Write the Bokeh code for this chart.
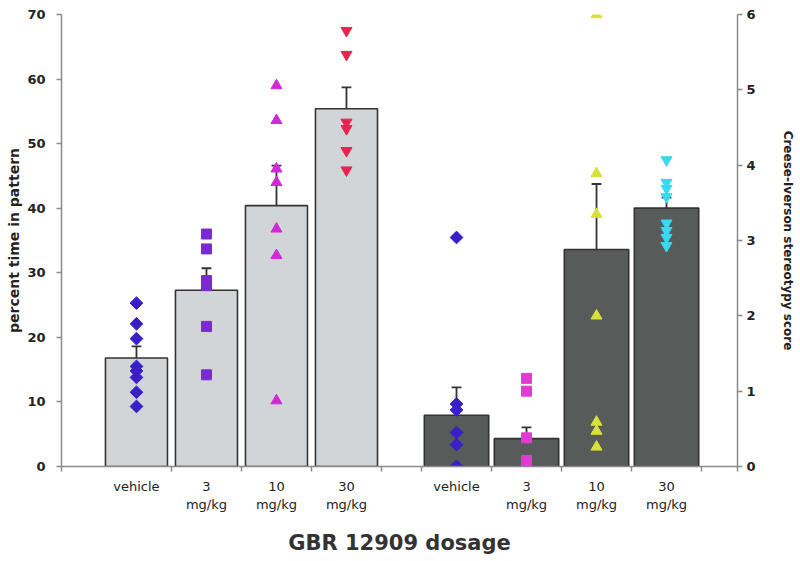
import math
from bokeh.plotting import figure
from bokeh.models import Range1d, LinearAxis, FixedTicker, ColumnDataSource
from bokeh.embed import file_html
from bokeh.resources import INLINE

# ---------------- data ----------------
dose_labels = ["vehicle", "3\nmg/kg", "10\nmg/kg", "30\nmg/kg"]

# percent time in pattern (left axis)
pct_means = [16.8, 27.3, 40.4, 55.4]
pct_sem = [1.8, 3.4, 6.2, 3.3]
pct_vehicle = [25.3, 22.1, 19.8, 15.5, 14.8, 13.8, 11.5, 9.3]
pct_3 = [36.0, 33.7, 28.8, 28.0, 21.7, 14.2]
pct_10 = [59.0, 53.6, 46.1, 44.0, 36.8, 32.7, 10.2]
pct_30 = [67.5, 63.8, 53.3, 52.3, 48.9, 45.9]

# Creese-Iverson stereotypy score (right axis)
score_means = [0.68, 0.37, 2.88, 3.43]
score_sem = [0.37, 0.15, 0.87, 0.14]
score_vehicle = [3.04, 0.83, 0.75, 0.45, 0.29, 0.0, 0.0, 0.0]
score_3 = [1.17, 1.0, 0.38, 0.08, 0.0, 0.0, 0.0]
score_10 = [6.0, 3.89, 3.35, 2.0, 0.59, 0.47, 0.26]
score_30 = [4.07, 3.77, 3.69, 3.58, 3.23, 3.13, 3.04, 2.93]

pct_ticks = [0, 10, 20, 30, 40, 50, 60, 70]
score_ticks = [0, 1, 2, 3, 4, 5, 6]

# ---------------- layout constants ----------------
X_END = 9.657
LEFT_START = 1.071
RIGHT_START = 5.643
left_x = [round(LEFT_START + i, 3) for i in range(4)]
right_x = [round(RIGHT_START + i, 3) for i in range(4)]

left_colors = ["#3a1fc9", "#7a2bd0", "#d02ad6", "#e8244e"]
right_colors = ["#3a1fc9", "#e03cd4", "#d8e03a", "#38d8f0"]
markers = ["square", "square", "triangle", "inverted_triangle"]
angles = [math.pi / 4, 0, 0, 0]
sizes = [9, 10, 11, 11]

AX = "#8a8a8a"
TXT = "#222222"

p = figure(width=800, height=561, output_backend="svg", toolbar_location=None,
           x_range=Range1d(0, X_END), y_range=Range1d(0, 70),
           min_border_left=61, min_border_right=63, min_border_top=14, min_border_bottom=95)
p.extra_y_ranges = {"score": Range1d(0, 6)}
p.outline_line_color = None
p.xgrid.visible = False
p.ygrid.visible = False
p.background_fill_color = "white"
p.border_fill_color = "white"

# bars
p.vbar(x=left_x, top=pct_means, width=0.886, bottom=0,
       fill_color="#d2d5d8", line_color="#333333", line_width=1.6)
p.vbar(x=right_x, top=score_means, width=0.92, bottom=0, y_range_name="score",
       fill_color="#575b5a", line_color="#333333", line_width=1.6)

# error bars (upper only)
CAP = 0.07
pct_top = [m + s for m, s in zip(pct_means, pct_sem)]
score_top = [m + s for m, s in zip(score_means, score_sem)]
p.segment(x0=left_x, y0=pct_means, x1=left_x, y1=pct_top, line_color="#333333", line_width=1.8)
p.segment(x0=[x - CAP for x in left_x], y0=pct_top, x1=[x + CAP for x in left_x], y1=pct_top,
          line_color="#333333", line_width=1.8)
p.segment(x0=right_x, y0=score_means, x1=right_x, y1=score_top, y_range_name="score",
          line_color="#333333", line_width=1.8)
p.segment(x0=[x - CAP for x in right_x], y0=score_top, x1=[x + CAP for x in right_x], y1=score_top,
          y_range_name="score", line_color="#333333", line_width=1.8)

# individual points
def pts(xc, vals, color, marker, size, angle, yr="default"):
    src = ColumnDataSource(dict(x=[xc] * len(vals), y=vals))
    kw = {} if yr == "default" else {"y_range_name": yr}
    p.scatter("x", "y", source=src, marker=marker, size=size, angle=angle,
              fill_color=color, line_color=color, **kw)

left_sets = [pct_vehicle, pct_3, pct_10, pct_30]
right_sets = [score_vehicle, score_3, score_10, score_30]
for i in range(4):
    pts(left_x[i], left_sets[i], left_colors[i], markers[i], sizes[i], angles[i])
    pts(right_x[i], right_sets[i], right_colors[i], markers[i], sizes[i], angles[i], "score")

# ---------------- axes ----------------
yl = p.yaxis[0]
yl.ticker = FixedTicker(ticks=pct_ticks)
yl.axis_label = "percent time in pattern"

yr = LinearAxis(y_range_name="score", ticker=FixedTicker(ticks=score_ticks),
                axis_label="Creese-Iverson stereotypy score")
p.add_layout(yr, "right")

for ax, lsize, lstand in ((yl, "14px", 2), (yr, "12px", 22)):
    ax.axis_line_color = AX
    ax.axis_line_width = 1.5
    ax.major_tick_line_color = AX
    ax.major_tick_line_width = 1.5
    ax.major_tick_in = 0
    ax.major_tick_out = 5
    ax.minor_tick_line_color = None
    ax.major_label_text_font = "DejaVu Sans"
    ax.major_label_text_font_style = "bold"
    ax.major_label_text_font_size = "13px"
    ax.major_label_text_color = TXT
    ax.axis_label_text_font = "DejaVu Sans"
    ax.axis_label_text_font_style = "bold"
    ax.axis_label_text_font_size = lsize
    ax.axis_label_text_color = TXT
    ax.axis_label_standoff = lstand
yl.major_label_standoff = 11
yr.major_label_standoff = 4

xa = p.xaxis[0]
centers = left_x + right_x
bounds = [0.0] + [round(x + 0.5, 3) for x in left_x] + \
         [round(x - 0.5, 3) for x in right_x] + [round(right_x[-1] + 0.5, 3), X_END]
xa.ticker = FixedTicker(ticks=centers, minor_ticks=bounds)
xa.major_label_overrides = {c: lab for c, lab in zip(centers, dose_labels * 2)}
xa.axis_label = "GBR 12909 dosage"
xa.axis_line_color = AX
xa.axis_line_width = 1.5
xa.major_tick_line_color = None
xa.major_tick_in = 0
xa.major_tick_out = 0
xa.minor_tick_line_color = AX
xa.minor_tick_line_width = 1.5
xa.minor_tick_in = 0
xa.minor_tick_out = 5
xa.major_label_standoff = 7
xa.major_label_text_font = "DejaVu Sans"
xa.major_label_text_font_size = "13px"
xa.major_label_text_color = TXT
xa.axis_label_text_font = "DejaVu Sans"
xa.axis_label_text_font_style = "bold"
xa.axis_label_text_font_size = "21px"
xa.axis_label_text_color = "#333333"
xa.axis_label_standoff = 16

open("out.html", "w").write(file_html(p, INLINE))
